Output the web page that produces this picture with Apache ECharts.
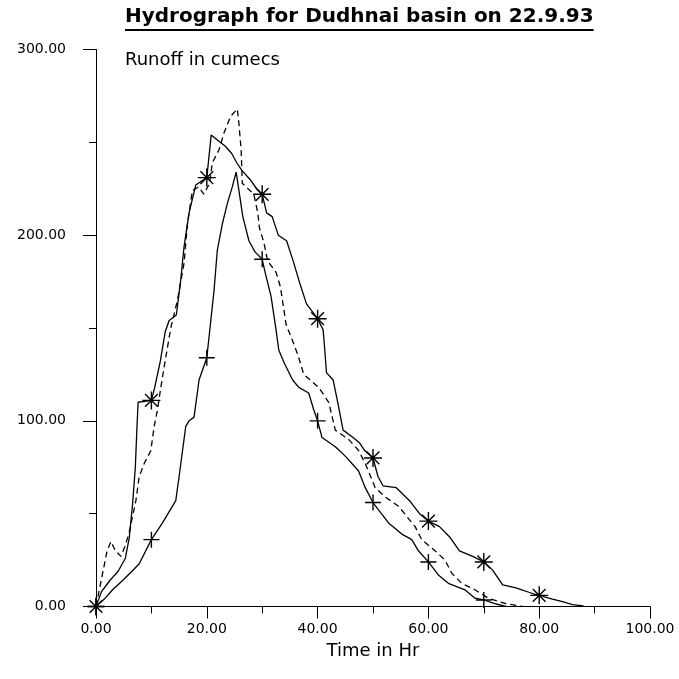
<!DOCTYPE html>
<html>
<head>
<meta charset="utf-8">
<script src="https://cdn.jsdelivr.net/npm/echarts@6/dist/echarts.min.js"></script>
<style>html,body{margin:0;padding:0;background:#fff}#c{width:679px;height:679px}</style>
</head>
<body>
<div id="c"></div>
<script>
// ---- Data ----
const titleText = 'Hydrograph for Dudhnai basin on 22.9.93';
const yLabelText = 'Runoff in cumecs';
const xNameText = 'Time in Hr';
const xTicks = [0, 20, 40, 60, 80, 100];
const yTicks = [0, 100, 200, 300];

// Series A: solid line with asterisk markers
const timeA = [0,1,2.5,4,5.3,6,6.6,7.1,7.4,7.6,10,10.6,11.6,12.5,13.2,14.5,15.3,15.9,16.8,18,20,20.8,22.4,23.3,24.5,25.4,26.3,27.8,29,30,30.8,31.8,32.9,34.4,35.6,36.8,38,40,41,41.3,41.6,42.8,43.7,44.6,46.4,47.6,48.5,50,50.9,51.8,54.2,56.6,58.4,60,62,63.8,65.6,68,70,71.6,73.4,75.8,78.8,80,82.4,84.2,86,88];
const flowA = [0,8,14,19,26,37,55,75,97,110,111,118,132,148,154,157,176,194,212,227,231,254,250,248,244,239,235,230,225,222,212,210,200,197,186,174,163,155,149,138,126,122,109,95,91,88,84,80,70,65,64,57,50,46,43,37.6,30,27,24,19.6,11.6,10,7,6,4,2.6,1,0.3];

// Series B: dashed line
const timeB = [0,1.2,2,2.7,3.5,4.5,5.3,6,7.2,7.8,8.7,9.9,10.5,11.1,11.7,12.3,13.5,14.7,15.9,16.5,17.4,18.5,19.5,20.5,21,22.2,23.1,24.3,25.5,25.8,26.2,26.4,28.5,29.2,29.5,30.3,31,32.5,33.3,33.8,34.3,35.5,36.5,37.5,40.2,42,43.2,45.6,47.4,48.6,50.4,52.2,54.6,57.6,58.8,61.2,63,64.2,66,68.4,70.8,74,77];
const flowB = [0,18,30,35,30,27,33,40,57,70,77,84,97,106,118,129,150,165,185,206,224,226,222,228,239,246,255,264,268,260,246,228,222,212,204,196,186,180,172,162,152,143,135,125,118,110,95,90,84,77,64,59,54,43,36,30,25,18,12.5,9,4.5,1.5,0];

// Series C: solid line with plus markers
const timeC = [0,1.5,3,4.8,6.5,7.8,10,12,14.4,15,16.2,16.8,17.7,18.6,20,21.3,21.9,22.8,23.7,24.6,25.3,25.8,26.5,27.6,28.7,30,30.6,31.6,32.5,33,34,35.5,36.6,38.4,39.3,40,40.8,43.2,45,47.4,48.6,50,51,52.8,55.2,57,58.2,60,61.8,63.6,66.6,68.4,70,72,74];
const flowC = [0,4,9,14,19,23,36,45,57,70,97,100,102,122,134,170,192,206,217,226,234,224,210,197,191,187,179,167,149,138,131,122,118,115,106,100,91,86,81,73,64,56,52,45,39,36,30,24,17,12.5,9,4.5,3.5,1.5,0];

// ---- Chart ----
const starPath = 'path://M0,-10L0,10M-10,0L10,0M-7.07,-7.07L7.07,7.07M-7.07,7.07L7.07,-7.07';
const plusPath = 'path://M-10,0L10,0M0,-10L0,10';
const FONT = 'DejaVu Sans';
const pair = (t, f) => t.map((x, i) => [x, f[i]]);
const markEvery10 = (path) => (v) => (Math.abs(v[0] / 10 - Math.round(v[0] / 10)) < 1e-9 ? path : 'none');

const titleSize = 20;
const ctx = document.createElement('canvas').getContext('2d');
ctx.font = 'bold ' + titleSize + 'px "' + FONT + '"';
const titleWidth = ctx.measureText(titleText).width;
const titleLeft = 125;

const chart = echarts.init(document.getElementById('c'), null, {renderer: 'canvas'});
const axisCommon = {
  axisLine: {lineStyle: {color: '#000', width: 1}},
  splitLine: {show: false},
  axisLabel: {color: '#000', fontFamily: FONT, fontSize: 14},
};
chart.setOption({
  animation: false,
  backgroundColor: '#fff',
  title: [
    {text: titleText, left: titleLeft, top: 7, padding: 0,
     textStyle: {fontFamily: FONT, fontSize: titleSize, fontWeight: 'bold', color: '#000'}},
    {text: yLabelText, left: 125, top: 51, padding: 0,
     textStyle: {fontFamily: FONT, fontSize: 18, fontWeight: 'normal', color: '#000'}}
  ],
  graphic: [
    {type: 'rect', left: titleLeft, top: 29, shape: {width: titleWidth, height: 2}, style: {fill: '#000'}}
  ],
  grid: {left: 96, right: 29, top: 49.5, bottom: 72.5},
  xAxis: Object.assign({}, axisCommon, {
    type: 'value', min: xTicks[0], max: xTicks[xTicks.length - 1], interval: 20,
    name: xNameText, nameLocation: 'middle', nameGap: 36,
    nameTextStyle: {fontFamily: FONT, fontSize: 18, color: '#000'},
    axisTick: {show: true, length: 12, lineStyle: {color: '#000'}},
    minorTick: {show: true, splitNumber: 2, length: 7, lineStyle: {color: '#000'}},
    axisLabel: Object.assign({}, axisCommon.axisLabel, {margin: 16, formatter: (v) => v.toFixed(2)})
  }),
  yAxis: Object.assign({}, axisCommon, {
    type: 'value', min: yTicks[0], max: yTicks[yTicks.length - 1], interval: 100,
    axisTick: {show: true, length: 13, lineStyle: {color: '#000'}},
    minorTick: {show: true, splitNumber: 2, length: 7, lineStyle: {color: '#000'}},
    axisLabel: Object.assign({}, axisCommon.axisLabel, {margin: 30, formatter: (v) => v.toFixed(2)})
  }),
  series: [
    {type: 'line', data: pair(timeA, flowA), symbol: markEvery10(starPath), symbolSize: 18,
     lineStyle: {color: '#000', width: 1.3}, itemStyle: {color: '#000', borderColor: '#000', borderWidth: 1.4},
     silent: true, z: 3},
    {type: 'line', data: pair(timeB, flowB), symbol: 'none',
     lineStyle: {color: '#000', width: 1.3, type: [6, 4]}, silent: true, z: 2},
    {type: 'line', data: pair(timeC, flowC), symbol: markEvery10(plusPath), symbolSize: 16,
     lineStyle: {color: '#000', width: 1.3}, itemStyle: {color: '#000', borderColor: '#000', borderWidth: 1.4},
     silent: true, z: 3}
  ]
});
</script>
</body>
</html>
